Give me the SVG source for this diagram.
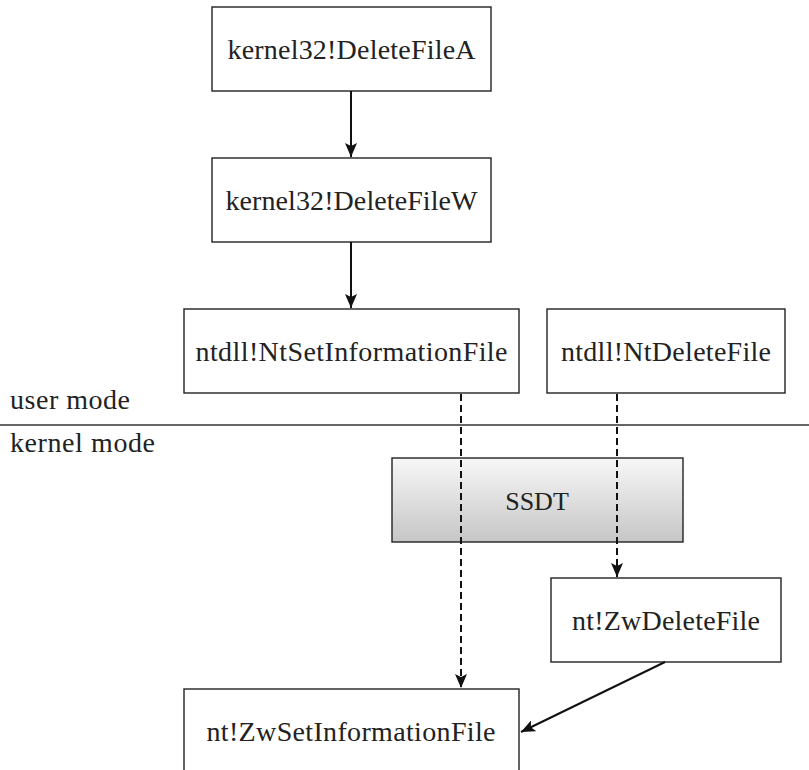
<svg xmlns="http://www.w3.org/2000/svg" width="809" height="770" viewBox="0 0 809 770">
<style>
.box{fill:#fff;stroke:#222;stroke-width:1.4}
.t{font-family:"Liberation Serif","Times New Roman",serif;font-size:28px;fill:#222;text-anchor:middle}
.lbl{font-family:"Liberation Serif","Times New Roman",serif;font-size:28px;fill:#222}
.solid{stroke:#111;stroke-width:2;fill:none}
.dash{stroke:#111;stroke-width:2;fill:none;stroke-dasharray:7 4}
</style>
<defs>
<linearGradient id="g" x1="0" y1="0" x2="0" y2="1">
<stop offset="0" stop-color="#f7f7f7"/>
<stop offset="1" stop-color="#c6c6c6"/>
</linearGradient>
<marker id="ah" markerUnits="userSpaceOnUse" markerWidth="16" markerHeight="12" refX="14" refY="6" orient="auto">
<path d="M0,0 L14,6 L0,12 L3,6 z" fill="#111"/>
</marker>
</defs>
<rect width="809" height="770" fill="#fff"/>
<g id="modes">
<line x1="0" y1="425" x2="809" y2="425" stroke="#333" stroke-width="1.5"/>
<text class="lbl" x="10" y="409" textLength="120" lengthAdjust="spacing">user mode</text>
<text class="lbl" x="10" y="452" textLength="145" lengthAdjust="spacing">kernel mode</text>
</g>
<g id="n1"><rect class="box" x="212" y="7" width="279" height="84"/><text class="t" x="351.5" y="59" textLength="248" lengthAdjust="spacing">kernel32!DeleteFileA</text></g>
<g id="n2"><rect class="box" x="212" y="158" width="279" height="84"/><text class="t" x="351.5" y="210" textLength="252" lengthAdjust="spacing">kernel32!DeleteFileW</text></g>
<g id="n3"><rect class="box" x="184" y="309" width="335" height="84"/><text class="t" x="351.5" y="361" textLength="312" lengthAdjust="spacing">ntdll!NtSetInformationFile</text></g>
<g id="n4"><rect class="box" x="547" y="309" width="238" height="84"/><text class="t" x="666" y="361" textLength="210" lengthAdjust="spacing">ntdll!NtDeleteFile</text></g>
<g id="ssdt"><rect x="392" y="458" width="291" height="84" fill="url(#g)" stroke="#222" stroke-width="1.4"/><text class="t" x="537" y="510" style="font-size:26px">SSDT</text></g>
<g id="n5"><rect class="box" x="551" y="578" width="230" height="84"/><text class="t" x="666" y="630" textLength="188" lengthAdjust="spacing">nt!ZwDeleteFile</text></g>
<g id="n6"><rect class="box" x="184" y="689" width="335" height="90"/><text class="t" x="351" y="741" textLength="289" lengthAdjust="spacing">nt!ZwSetInformationFile</text></g>
<g id="connectors">
<line class="solid" x1="351" y1="91" x2="351" y2="157" marker-end="url(#ah)"/>
<line class="solid" x1="351" y1="242" x2="351" y2="308" marker-end="url(#ah)"/>
<line class="dash" x1="461" y1="394" x2="461" y2="688" marker-end="url(#ah)"/>
<line class="dash" x1="617" y1="394" x2="617" y2="577" marker-end="url(#ah)"/>
<line class="solid" x1="665" y1="662" x2="521" y2="732" marker-end="url(#ah)"/>
</g>
</svg>
